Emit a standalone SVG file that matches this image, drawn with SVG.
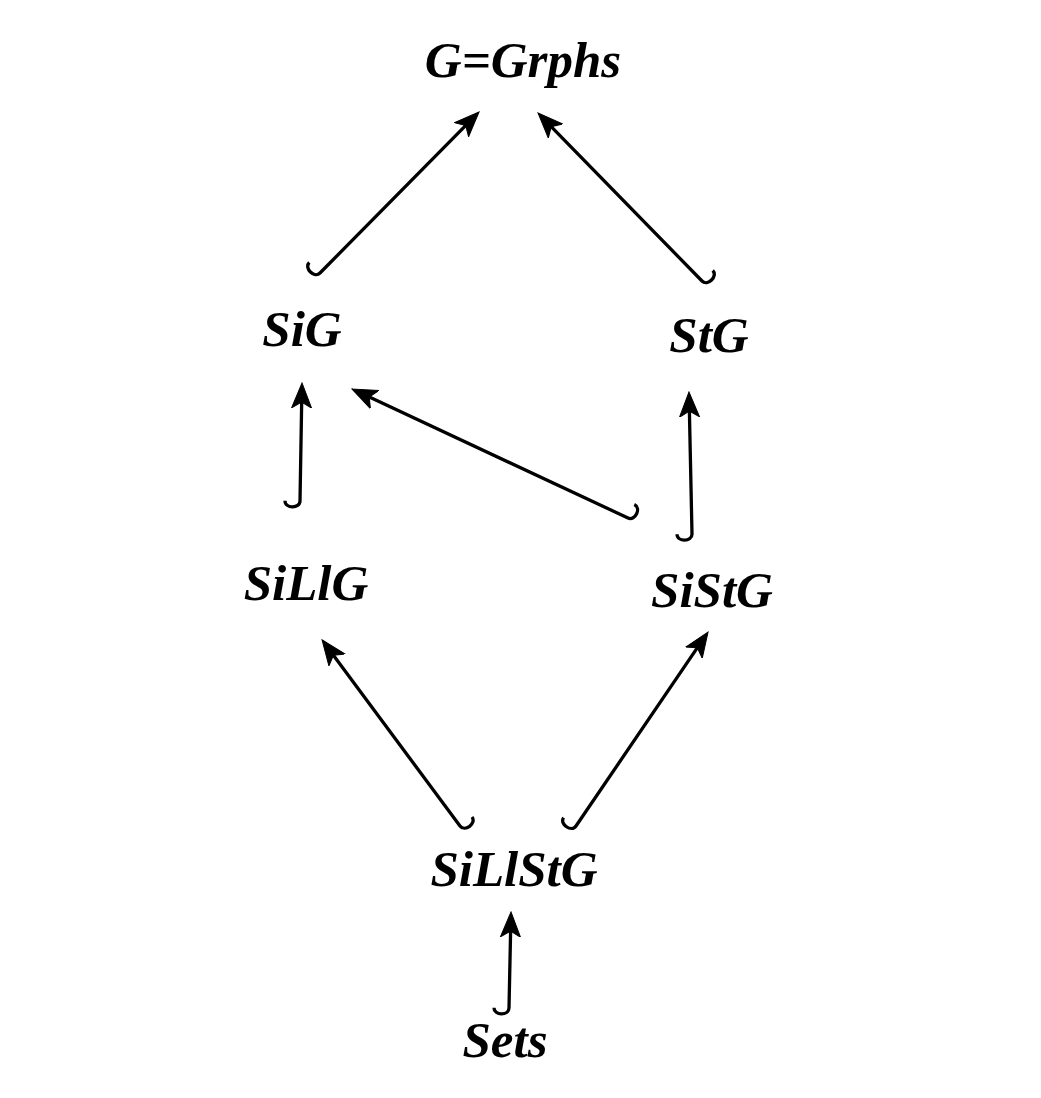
<svg xmlns="http://www.w3.org/2000/svg" width="1041" height="1098" viewBox="0 0 1041 1098">
<style>
.lbl{font-family:"Liberation Serif","Times New Roman",serif;font-weight:bold;font-style:italic;font-size:51px;fill:#000;text-anchor:middle}
.edge{fill:none;stroke:#000;stroke-width:3.3;marker-end:url(#ah)}
</style>
<defs>
<marker id="ah" markerUnits="userSpaceOnUse" viewBox="0 -12 26 24" markerWidth="26" markerHeight="24" refX="10" refY="0" orient="auto">
<path d="M0,-10 L25,0 L0,10 L6,0 Z" fill="#000" stroke="#000" stroke-width="1"/>
</marker>
</defs>
<rect width="1041" height="1098" fill="#fff"/>
<g id="n-graphs"><text class="lbl" x="523" y="77">G=Grphs</text></g>
<g id="n-sig"><text class="lbl" x="302" y="346">SiG</text></g>
<g id="n-stg"><text class="lbl" x="709" y="352">StG</text></g>
<g id="n-silg"><text class="lbl" x="306" y="600">SiLlG</text></g>
<g id="n-sistg"><text class="lbl" x="712" y="607">SiStG</text></g>
<g id="n-silstg"><text class="lbl" x="514" y="886">SiLlStG</text></g>
<g id="n-sets"><text class="lbl" x="505" y="1057">Sets</text></g>
<g id="connectors">
<path class="edge" d="M309.3,262.5 C303.7,268.2 314.4,278.7 320,273 L468.5,122.6"/>
<path class="edge" d="M712.7,270.5 C718.3,276.2 707.6,286.7 702,281 L548.5,123.8"/>
<path class="edge" d="M285,500.7 C284.9,508.7 299.9,509 300,501 L301.75,398"/>
<path class="edge" d="M634.3,504.4 C641.6,507.8 635.3,521.4 628,518 L365.6,395.3"/>
<path class="edge" d="M677,534.3 C677.2,542.3 692.2,542 692,534 L689.3,407"/>
<path class="edge" d="M472,817.1 C476.8,823.5 464.8,832.4 460,826 L331,652"/>
<path class="edge" d="M563.6,817.6 C559.1,824.2 571.5,832.6 576,826 L699.6,644.4"/>
<path class="edge" d="M494,1007.7 C493.8,1015.7 508.8,1016 509,1008 L510.7,927"/>
</g>
</svg>
